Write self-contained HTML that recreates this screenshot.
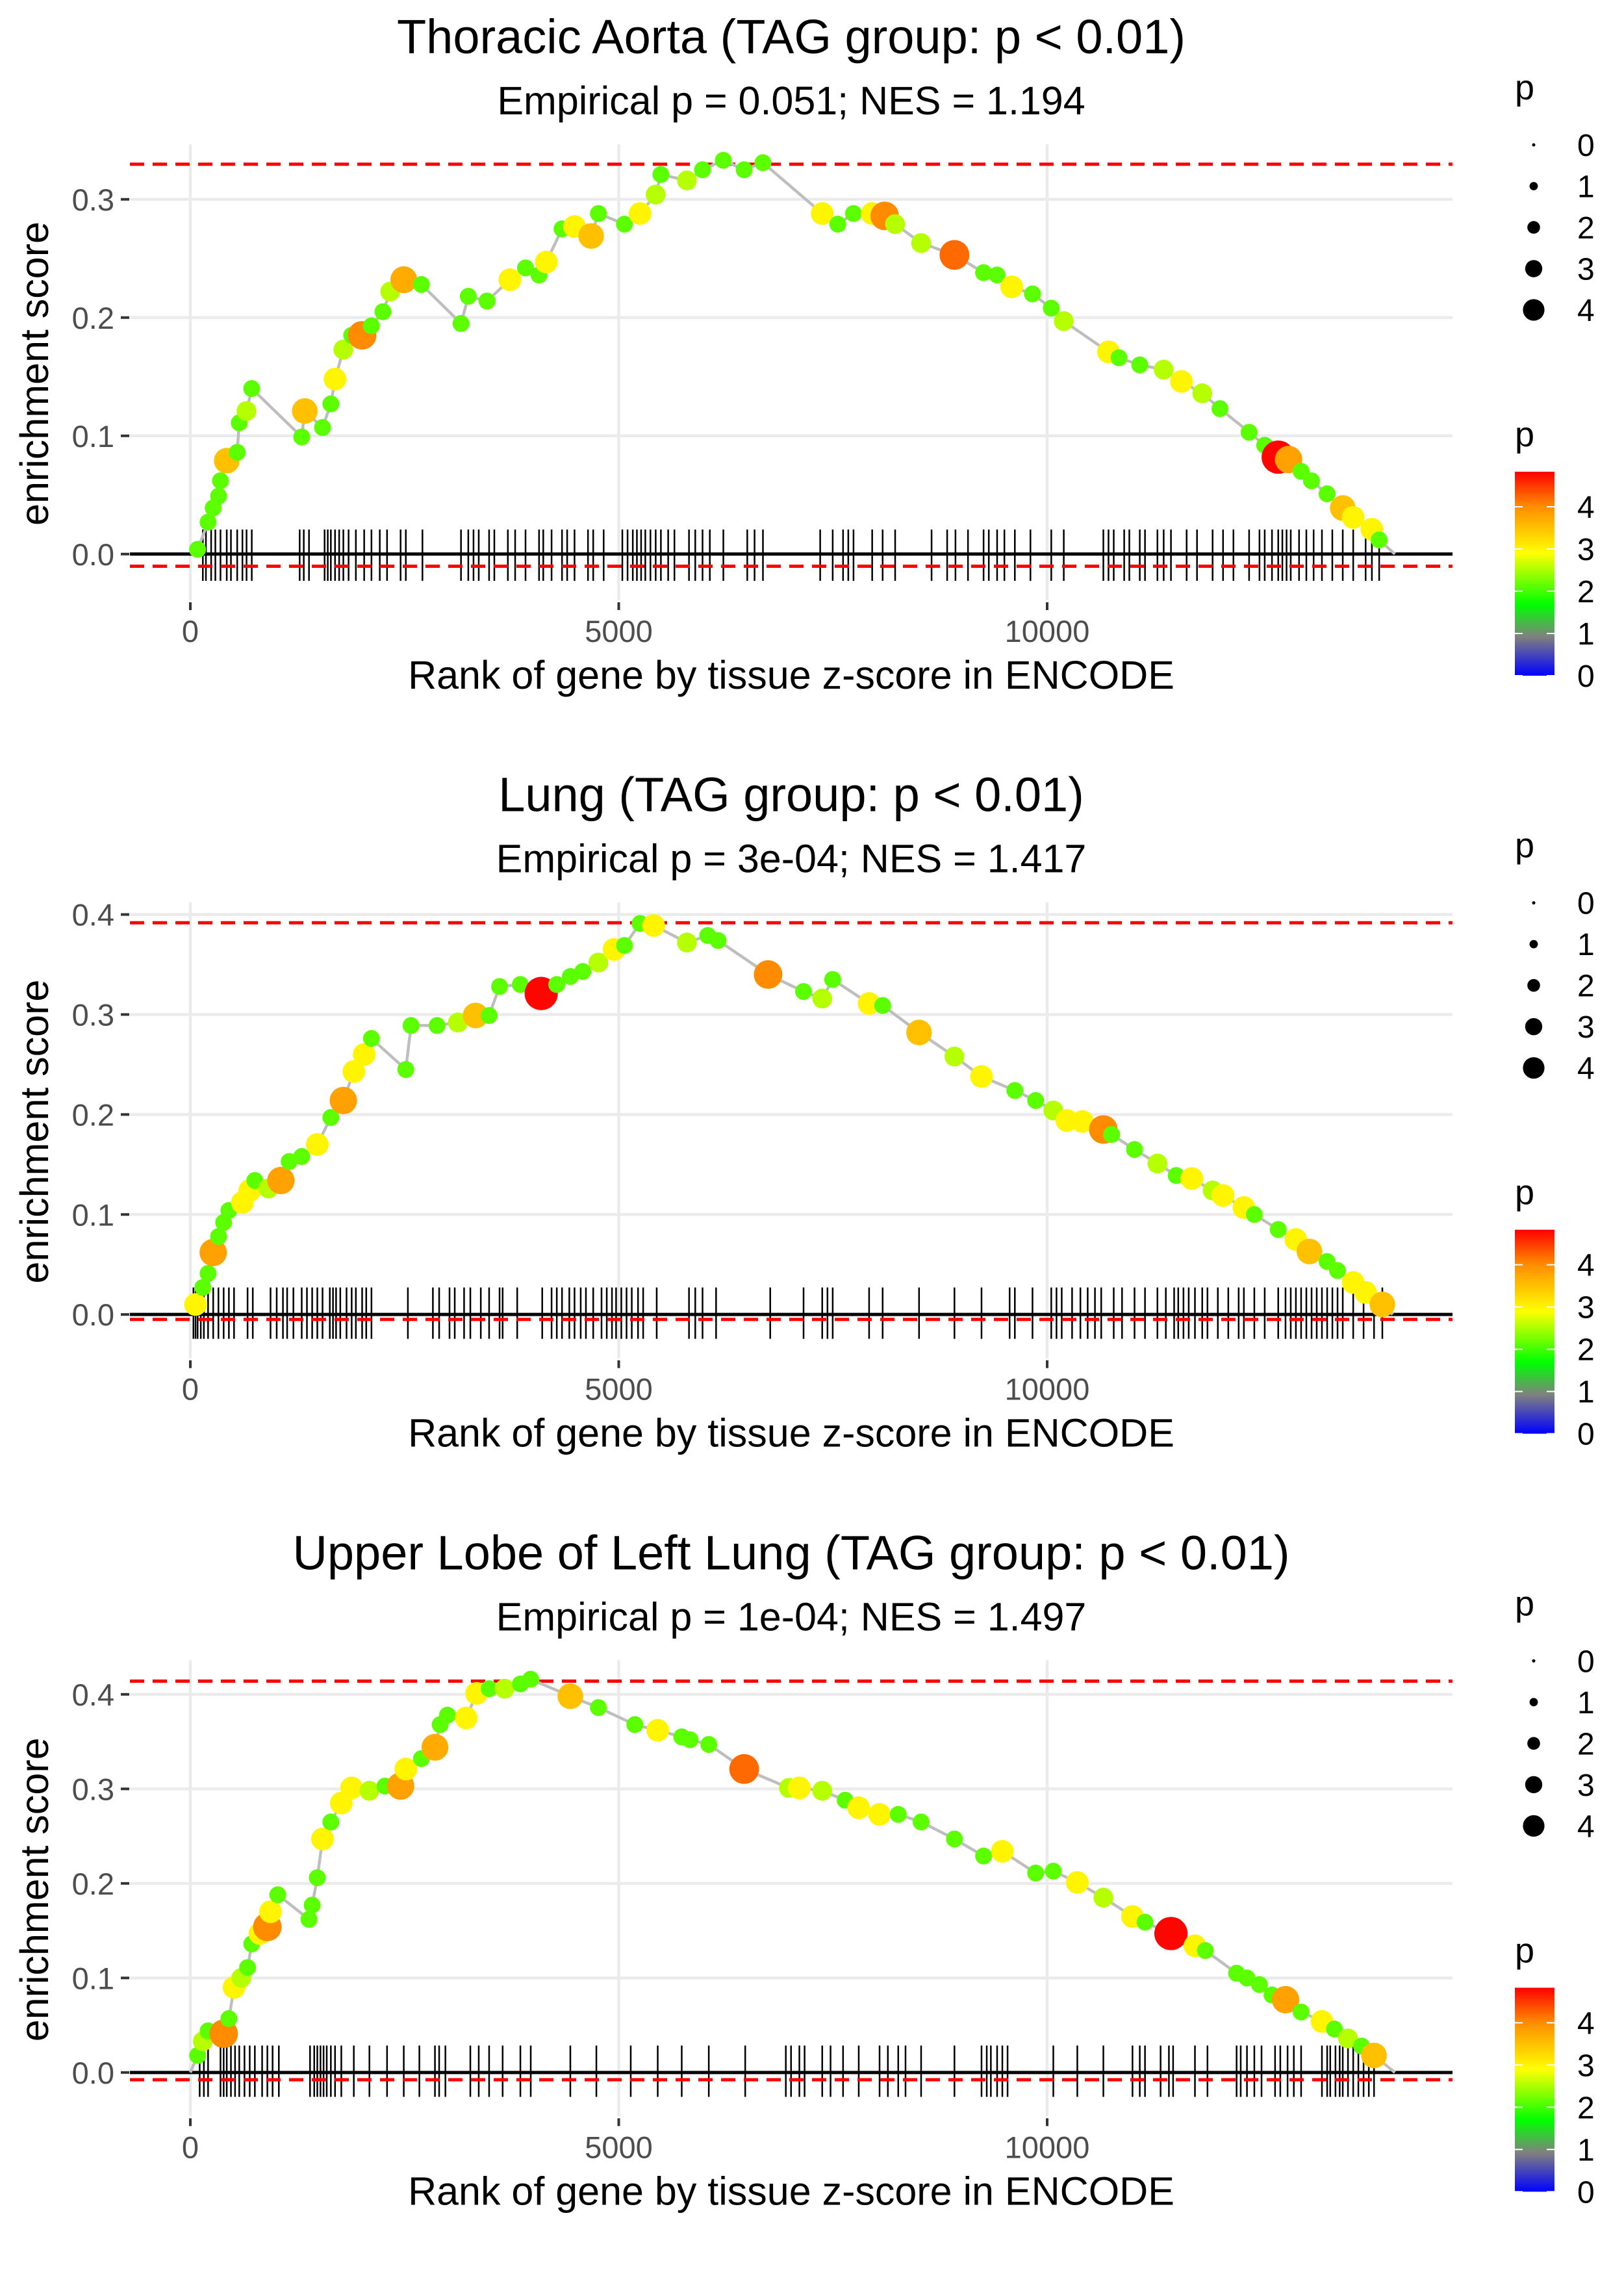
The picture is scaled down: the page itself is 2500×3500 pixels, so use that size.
<!DOCTYPE html>
<html><head><meta charset="utf-8"><style>
html,body{margin:0;padding:0;background:#fff}
svg{display:block;font-family:"Liberation Sans",Arial,sans-serif}
</style></head><body>
<svg id="chart" xmlns="http://www.w3.org/2000/svg" width="2500" height="3500" viewBox="0 0 2500 3500">
<defs>
<linearGradient id="cbar" x1="0" y1="1" x2="0" y2="0">
<stop offset="0" stop-color="#0000ff"/><stop offset="0.19" stop-color="#808080"/><stop offset="0.35" stop-color="#00ff00"/><stop offset="0.6" stop-color="#ffff00"/><stop offset="0.83" stop-color="#ff8c00"/><stop offset="1" stop-color="#ff0000"/>
</linearGradient>
</defs>
</svg>
<script>
// ---- data ----
const titles=["Thoracic Aorta (TAG group: p < 0.01)","Lung (TAG group: p < 0.01)","Upper Lobe of Left Lung (TAG group: p < 0.01)"];
const subtitles=["Empirical p = 0.051; NES = 1.194","Empirical p = 3e-04; NES = 1.417","Empirical p = 1e-04; NES = 1.497"];
const xTicks=[0,5000,10000];
const yTicks1=[0,0.1,0.2,0.3];
const yTicks2=[0,0.1,0.2,0.3,0.4];
const yTicks3=[0,0.1,0.2,0.3,0.4];
const esMax=[0.3297,0.3918,0.414];
const esMin=[-0.0103,-0.0049,-0.0077];
const nGenes=[14058,14033,14058];
const legendSizes=[0,1,2,3,4];
const colorTicks=[0,1,2,3,4];

const ranks1=[85,207,267,330,352,425,547,571,656,717,1300,1336,1543,1640,1689,1786,1883,2005,2114,2248,2333,2491,2697,3159,3244,3463,3730,3912,4070,4155,4338,4484,4678,4763,5067,5249,5431,5492,5796,5978,6221,6464,6683,7375,7557,7740,7958,8104,8226,8529,8918,9258,9416,9586,9829,10048,10194,10716,10838,11081,11360,11567,11810,12017,12357,12539,12697,12818,12964,13085,13267,13450,13572,13790,13875];
const es1=[0.004,0.027,0.039,0.049,0.062,0.079,0.086,0.111,0.121,0.14,0.099,0.121,0.107,0.127,0.148,0.173,0.185,0.185,0.193,0.205,0.222,0.232,0.228,0.195,0.218,0.214,0.232,0.242,0.236,0.247,0.275,0.277,0.269,0.288,0.279,0.288,0.304,0.321,0.316,0.325,0.333,0.325,0.331,0.288,0.279,0.288,0.288,0.286,0.279,0.263,0.253,0.238,0.236,0.226,0.22,0.208,0.197,0.171,0.166,0.16,0.156,0.146,0.136,0.123,0.103,0.092,0.082,0.08,0.07,0.062,0.051,0.039,0.031,0.021,0.012];
const p1=[2,2,2,2,2,3.5,2,2,2.5,2,2,3.5,2,2,3,2.5,2,4,2,2,2.5,3.7,2,2,2,2,3,2,2,3,2,3,3.5,2,2,3,2.5,2,2.5,2,2,2,2,3,2,2,3,4,2.5,2.5,4.2,2,2,3,2,2,2.5,3,2,2,2.5,3,2.5,2,2,2,4.8,3.8,2,2,2,3.5,3,3,2];
const rug1=[146,182,243,292,352,425,474,547,608,656,717,1276,1324,1385,1567,1604,1640,1689,1737,1786,1847,1932,2029,2114,2211,2296,2454,2515,2709,3159,3244,3305,3366,3487,3548,3706,3791,3912,4070,4119,4216,4338,4398,4484,4641,4702,4824,5042,5103,5164,5212,5261,5310,5370,5431,5492,5577,5650,5820,5893,5978,6063,6221,6500,6585,6683,7351,7497,7618,7679,7740,7958,8080,8226,8651,8833,8930,9076,9258,9319,9416,9501,9623,9805,10048,10194,10656,10716,10777,10899,10959,11081,11142,11287,11360,11445,11628,11749,11931,12053,12174,12357,12478,12539,12624,12697,12745,12794,12843,12940,13025,13110,13207,13328,13450,13572,13717,13790,13875];

const ranks2=[61,146,207,267,330,389,450,608,693,753,911,1057,1154,1300,1482,1640,1786,1908,2029,2114,2515,2576,2880,3123,3329,3487,3609,3852,4095,4277,4435,4580,4763,4945,5067,5249,5407,5796,6039,6160,6743,7157,7375,7497,7922,8080,8505,8918,9234,9623,9866,10072,10230,10412,10656,10753,11020,11287,11506,11688,11931,12053,12296,12418,12697,12902,13061,13267,13389,13572,13717,13912];
const es2=[0.01,0.027,0.041,0.062,0.078,0.092,0.104,0.112,0.124,0.134,0.126,0.134,0.153,0.158,0.17,0.197,0.214,0.243,0.26,0.276,0.245,0.289,0.289,0.292,0.299,0.299,0.328,0.33,0.321,0.33,0.338,0.343,0.352,0.365,0.369,0.391,0.389,0.372,0.379,0.374,0.34,0.323,0.316,0.335,0.311,0.309,0.282,0.258,0.238,0.224,0.214,0.204,0.194,0.193,0.185,0.18,0.165,0.151,0.139,0.136,0.124,0.119,0.107,0.1,0.085,0.075,0.063,0.053,0.044,0.032,0.022,0.01];
const p2=[3,2,2,3.8,2,2,2,3,3,2,2.5,3.8,2,2,3,2,3.8,3,3,2,2,2,2,2.5,3.5,2,2,2,4.8,2,2,2,2.5,3,2,2,3,2.5,2,2,4,2,2.5,2,3,2,3.5,2.5,3,2,2,2.5,3,3,4,2,2,2.5,2,3,2.5,3,3,2,2,3,3.5,2,2,3,3,3.5];
const rug2=[36,61,85,122,158,207,267,328,389,450,510,668,729,936,1008,1081,1130,1203,1300,1361,1422,1482,1543,1628,1665,1701,1750,1823,1883,1932,2005,2053,2114,2539,2831,2904,3025,3086,3195,3268,3390,3487,3609,3645,3815,4107,4216,4277,4338,4423,4484,4556,4617,4702,4799,4860,4921,4969,5030,5091,5152,5225,5285,5443,5820,5893,5978,6136,6768,7157,7375,7436,7497,7922,8080,8505,8918,9234,9562,9623,9829,10048,10109,10170,10291,10388,10473,10558,10631,10777,10874,11020,11142,11287,11385,11482,11530,11591,11652,11725,11810,11871,11992,12114,12235,12296,12418,12539,12697,12782,12843,12903,12964,13025,13086,13146,13207,13268,13329,13389,13450,13572,13693,13815,13912];

const ranks3=[85,146,207,389,450,510,595,668,717,814,899,936,1021,1385,1422,1482,1543,1640,1762,1883,2090,2272,2454,2515,2697,2855,2916,3001,3220,3341,3487,3669,3852,3973,4435,4763,5188,5455,5735,5832,6051,6464,6986,7108,7375,7643,7801,8044,8262,8529,8918,9258,9477,9866,10072,10352,10656,10996,11142,11445,11725,11846,12211,12332,12478,12624,12782,12964,13207,13353,13511,13669,13815];
const es3=[0.018,0.033,0.044,0.041,0.057,0.09,0.1,0.111,0.136,0.147,0.154,0.17,0.188,0.162,0.177,0.206,0.247,0.265,0.285,0.301,0.298,0.303,0.303,0.321,0.332,0.344,0.368,0.378,0.375,0.401,0.406,0.406,0.411,0.416,0.398,0.386,0.368,0.362,0.355,0.352,0.347,0.321,0.301,0.301,0.298,0.288,0.28,0.273,0.273,0.265,0.247,0.229,0.234,0.211,0.213,0.201,0.185,0.165,0.159,0.147,0.134,0.129,0.105,0.1,0.093,0.082,0.077,0.064,0.054,0.046,0.036,0.028,0.018];
const p3=[2,2.5,2,4,2,3,2.5,2,2,3,4,3,2,2,2,2,3,2,3,3,2.5,2,3.8,3,2,3.7,2,2,3,3,2,2.5,2,2,3.5,2,2,3,2,2,2,4.2,2.5,3,2.5,2,3,3,2,2,2,2,3,2,2,3,2.5,3,2,4.8,3,2,2,2,2,2,3.8,2,3,2,2.5,2,3.5];
const rug3=[109,158,207,352,389,425,474,522,571,632,693,753,838,899,960,1033,1397,1446,1482,1519,1555,1592,1640,1689,1762,1908,2090,2296,2491,2673,2855,2904,2977,3268,3366,3487,3645,3852,3973,4435,4739,5140,5455,5735,6051,6476,6950,7011,7108,7169,7375,7472,7618,7801,8044,8141,8262,8347,8529,8918,9234,9295,9343,9416,9477,9538,10072,10352,10656,10996,11081,11142,11324,11421,11470,11725,11871,12211,12259,12332,12418,12502,12660,12721,12806,12879,12964,13207,13268,13304,13365,13414,13450,13511,13572,13632,13693,13754,13815];

const panels=[
 {ranks:ranks1,es:es1,p:p1,rug:rug1,yTicks:yTicks1,y0:852.8,k:1820},
 {ranks:ranks2,es:es2,p:p2,rug:rug2,yTicks:yTicks2,y0:856.5,k:1539},
 {ranks:ranks3,es:es3,p:p3,rug:rug3,yTicks:yTicks3,y0:856.5,k:1455}
];

// ---- helpers ----
const NS="http://www.w3.org/2000/svg";
const svg=document.getElementById('chart');
function mk(tag,attrs,parent){const e=document.createElementNS(NS,tag);for(const a in attrs)e.setAttribute(a,attrs[a]);(parent||svg).appendChild(e);return e;}
function txt(s,attrs,parent){const e=mk('text',attrs,parent);e.textContent=s;return e;}
const xS=r=>293+r*0.1319;
const stops=[[0,[0,0,255]],[0.9,[128,128,128]],[1.5,[0,255,0]],[2.9,[255,255,0]],[4.0,[255,140,0]],[4.83,[255,0,0]]];
function col(v){v=Math.max(0,Math.min(4.83,v));for(let i=1;i<stops.length;i++){if(v<=stops[i][0]){const a=stops[i-1],b=stops[i];const t=(v-a[0])/(b[0]-a[0]);const c=a[1].map((x,j)=>Math.round(x+(b[1][j]-x)*t));return `rgb(${c})`;}}return 'rgb(255,0,0)';}
const rad=p=>4+4.5*p;
const PX0=200,PX1=2236,PY0=222,PY1=924;

panels.forEach((P,i)=>{
  const g=mk('g',{transform:`translate(0,${(i*3500/3).toFixed(2)})`});
  
  
  const yS=v=>P.y0-v*P.k;
  let t=txt(titles[i],{x:1218,y:82,'font-size':74,'text-anchor':'middle',fill:'#000'},g);
  
  t=txt(subtitles[i],{x:1218,y:176,'font-size':61,'text-anchor':'middle',fill:'#000'},g);
  
  const grid=mk('g',{},g);
  xTicks.forEach(v=>{mk('line',{x1:xS(v),x2:xS(v),y1:PY0,y2:PY1,stroke:'#ebebeb','stroke-width':4.5},grid);});
  P.yTicks.forEach(v=>{mk('line',{x1:PX0,x2:PX1,y1:yS(v),y2:yS(v),stroke:'#ebebeb','stroke-width':4.5},grid);});
  xTicks.forEach(v=>{
    mk('line',{x1:xS(v),x2:xS(v),y1:927,y2:939,stroke:'#333','stroke-width':4},g);
    const l=txt(String(v),{x:xS(v),y:988,'font-size':47,'text-anchor':'middle',fill:'#4d4d4d'},g);
    
  });
  P.yTicks.forEach(v=>{
    mk('line',{x1:186,x2:199,y1:yS(v),y2:yS(v),stroke:'#333','stroke-width':4},g);
    const l=txt(v.toFixed(1),{x:176,y:yS(v)+17,'font-size':47,'text-anchor':'end',fill:'#4d4d4d'},g);
    
  });
  t=txt('Rank of gene by tissue z-score in ENCODE',{x:1218,y:1060,'font-size':61,'text-anchor':'middle',fill:'#000'},g);
  
  t=txt('enrichment score',{x:0,y:0,'font-size':61,'text-anchor':'middle',fill:'#000',transform:'translate(74,575) rotate(-90)'},g);
  
  const rug=mk('g',{},g);
  P.rug.forEach(r=>{mk('line',{x1:xS(r),x2:xS(r),y1:815,y2:894,stroke:'#000','stroke-width':2.5},rug);});
  const z=mk('line',{x1:PX0,x2:PX1,y1:yS(0),y2:yS(0),stroke:'#000','stroke-width':5},g);
  
  [esMax[i],esMin[i]].forEach((v,j)=>{
    const d=mk('line',{x1:PX0,x2:PX1,y1:yS(v),y2:yS(v),stroke:'#ff0000','stroke-width':5,'stroke-dasharray':'22 13'},g);
    
  });
  let pts=[[0,0]];P.ranks.forEach((r,j)=>pts.push([r,P.es[j]]));pts.push([nGenes[i],0]);
  const pl=mk('polyline',{points:pts.map(q=>xS(q[0]).toFixed(1)+','+yS(q[1]).toFixed(1)).join(' '),fill:'none',stroke:'#bebebe','stroke-width':4.5},g);
  
  const pg=mk('g',{},g);
  P.ranks.forEach((r,j)=>{
    const c=mk('circle',{cx:xS(r),cy:yS(P.es[j]),r:rad(P.p[j]),fill:col(P.p[j])},pg);
    
    
  });
  const lg=mk('g',{},g);
  txt('p',{x:2332,y:153,'font-size':54,fill:'#000'},lg);
  legendSizes.forEach((v,j)=>{
    const cy=223+j*63.5;
    mk('circle',{cx:2361,cy:cy,r:v===0?2.5:3+3.4*v,fill:'#000'},lg);
    txt(String(v),{x:2428,y:cy+17,'font-size':48,fill:'#000'},lg);
  });
  const cb=mk('g',{},g);
  txt('p',{x:2332,y:687,'font-size':54,fill:'#000'},cb);
  const cy0=1040,ck=65;
  mk('rect',{x:2332,y:cy0-4.83*ck,width:61,height:4.83*ck,fill:'url(#cbar)'},cb);
  colorTicks.forEach(v=>{
    mk('line',{x1:2332,x2:2344,y1:cy0-v*ck,y2:cy0-v*ck,stroke:'#fff','stroke-width':2},cb);
    mk('line',{x1:2381,x2:2393,y1:cy0-v*ck,y2:cy0-v*ck,stroke:'#fff','stroke-width':2},cb);
    txt(String(v),{x:2428,y:cy0-v*ck+17,'font-size':48,fill:'#000'},cb);
  });
});
</script>
</body></html>
